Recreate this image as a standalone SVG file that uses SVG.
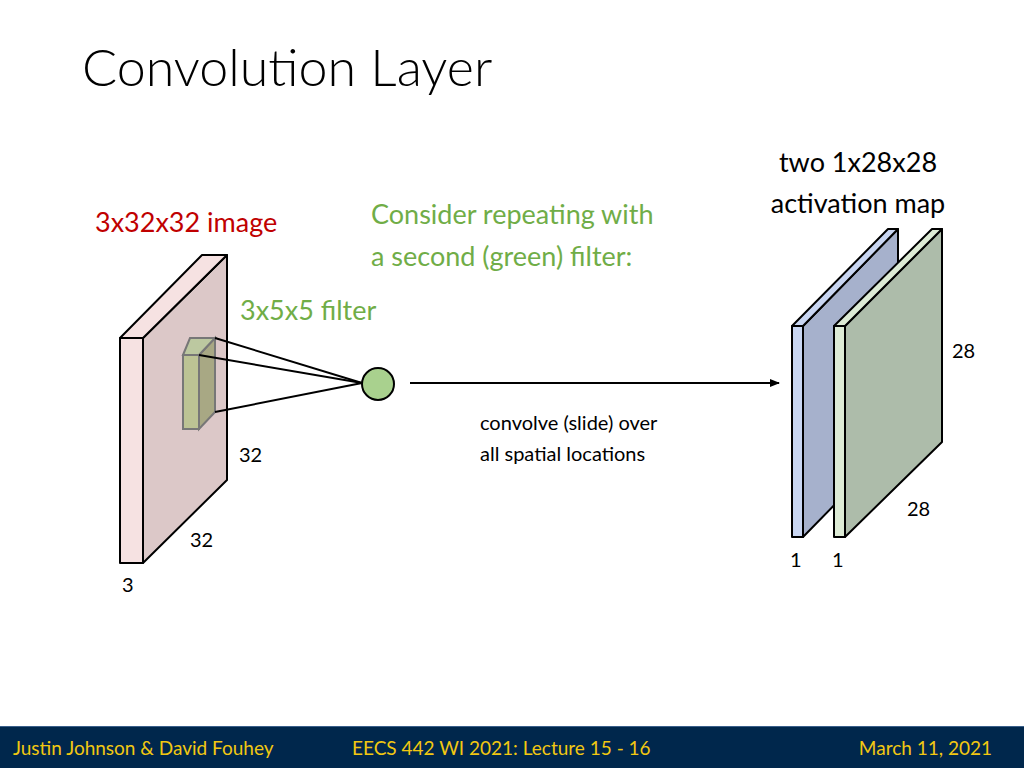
<svg xmlns="http://www.w3.org/2000/svg" width="1024" height="768" viewBox="0 0 1024 768">
<style>
text{font-family:Lato,"Liberation Sans",sans-serif}
.s{stroke:#000;stroke-width:2;stroke-linejoin:round}
.lbl{font-size:20px;fill:#000}
.g{fill:#70AD47;font-size:27px}
.ft{fill:#F2C811;font-size:19px}
</style>
<defs><marker id="ah" markerWidth="10" markerHeight="8" refX="9" refY="4" orient="auto" markerUnits="userSpaceOnUse"><path d="M0,0 L10,4 L0,8z" fill="#000"/></marker></defs>
<rect width="1024" height="768" fill="#fff"/>
<text x="82" y="86" font-size="52" font-weight="300" fill="#000">Convolution Layer</text>
<text x="95" y="232" font-size="27" fill="#C00000">3x32x32 image</text>
<text class="g" x="371" y="224">Consider repeating with</text>
<text class="g" x="371" y="266">a second (green) filter:</text>
<text class="g" x="240" y="320">3x5x5 filter</text>
<text x="858" y="172" font-size="27" text-anchor="middle">two 1x28x28</text>
<text x="858" y="213" font-size="27" text-anchor="middle">activation map</text>
<g id="image">
<polygon class="s" points="143,338 227,255 227,480 143,563" fill="#DCC8C8"/>
<polygon class="s" points="120,338 202,255 227,255 143,338" fill="#F6E2E2"/>
<rect class="s" x="120" y="338" width="23" height="225" fill="#F6E2E2"/>
</g>
<g id="filter">
<polygon points="199,355 215,338 215,412 199,429" fill="#A8A884" stroke="#777" stroke-width="2"/>
<polygon points="183,355 190,338 215,338 199,355" fill="#BCC8A0" stroke="#777" stroke-width="2"/>
<rect x="183" y="355" width="16" height="74" fill="#BCC394" stroke="#777" stroke-width="2"/>
</g>
<g id="connectors">
<line class="s" x1="215" y1="338" x2="362" y2="383"/>
<line class="s" x1="199" y1="355" x2="362" y2="383"/>
<line class="s" x1="215" y1="412" x2="362" y2="383"/>
<line x1="410" y1="383" x2="779" y2="383" stroke="#000" stroke-width="2" marker-end="url(#ah)"/>
</g>
<g id="neuron"><circle class="s" cx="378" cy="384" r="16" fill="#A9D18E"/></g>
<g id="map1">
<polygon class="s" points="803,326 898,229 898,440 803,537" fill="#A6B1CC"/>
<polygon class="s" points="792,326 888,229 898,229 803,326" fill="#C9D6F2"/>
<rect class="s" x="792" y="326" width="11" height="211" fill="#C9D6F2"/>
</g>
<g id="map2">
<polygon class="s" points="845,326 942,229 942,442 845,537" fill="#ADBCAA"/>
<polygon class="s" points="834,326 932,229 942,229 845,326" fill="#DDEBD5"/>
<rect class="s" x="834" y="326" width="11" height="211" fill="#DDEBD5"/>
</g>
<text class="lbl" x="239" y="462">32</text>
<text class="lbl" x="190" y="547">32</text>
<text class="lbl" x="122" y="592">3</text>
<text class="lbl" x="480" y="430">convolve (slide) over</text>
<text class="lbl" x="480" y="461">all spatial locations</text>
<text class="lbl" x="952" y="358">28</text>
<text class="lbl" x="907" y="516">28</text>
<text class="lbl" x="790" y="567">1</text>
<text class="lbl" x="832" y="567">1</text>
<rect x="0" y="726" width="1024" height="42" fill="#00274C"/>
<line x1="0" y1="726.5" x2="1024" y2="726.5" stroke="#3A5F8A" stroke-width="1"/>
<text class="ft" x="13" y="755">Justin Johnson &amp; David Fouhey</text>
<text class="ft" x="352" y="755">EECS 442 WI 2021: Lecture 15 -  16</text>
<text class="ft" x="992" y="755" text-anchor="end">March 11, 2021</text>
</svg>
